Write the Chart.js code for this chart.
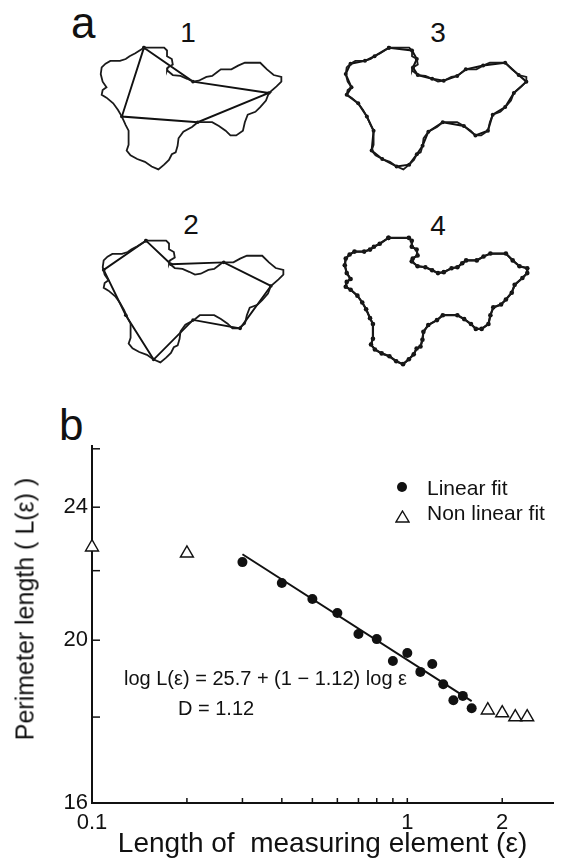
<!DOCTYPE html>
<html>
<head>
<meta charset="utf-8">
<script src="https://cdn.jsdelivr.net/npm/chart.js@4.4.0/dist/chart.umd.min.js"></script>
<style>
  body { margin: 0; background: #fff; }
  #page { position: relative; width: 562px; height: 861px; font-family: "Liberation Sans", Arial, sans-serif; color: #111; }
  canvas, .lbl, svg, .dot { position: absolute; }
  .lbl { line-height: 1; white-space: nowrap; }
</style>
</head>
<body>
<div id="page">
  <div class="lbl" style="left:71px;top:1px;font-size:44px">a</div>
  <div class="lbl" style="left:168px;top:19px;width:40px;text-align:center;font-size:28px">1</div>
  <div class="lbl" style="left:418px;top:19px;width:40px;text-align:center;font-size:28px">3</div>
  <div class="lbl" style="left:171px;top:211px;width:40px;text-align:center;font-size:28px">2</div>
  <div class="lbl" style="left:418px;top:212px;width:40px;text-align:center;font-size:28px">4</div>

  <canvas id="step1" width="204" height="142" style="left:90px;top:38px"></canvas>
  <canvas id="step3" width="204" height="142" style="left:335px;top:38px"></canvas>
  <canvas id="step2" width="204" height="142" style="left:92px;top:231px"></canvas>
  <canvas id="step4" width="206" height="147" style="left:334px;top:228px"></canvas>

  <div class="lbl" style="left:59px;top:403px;font-size:44px">b</div>
  <canvas id="plotB" width="562" height="481" style="left:0;top:380px"></canvas>

  <div class="lbl" style="left:25px;top:609px;font-size:25px;transform:translate(-50%,-50%) rotate(-90deg)">Perimeter length ( L(ε) )</div>

  <div class="dot" style="left:397px;top:482px;width:10px;height:10px;border-radius:50%;background:#111"></div>
  <div class="lbl" style="left:427px;top:477px;font-size:21px">Linear fit</div>
  <svg style="left:395px;top:510px" width="15" height="13"><polygon points="7.5,1 14,12 1,12" fill="none" stroke="#111" stroke-width="1.4"/></svg>
  <div class="lbl" style="left:427px;top:502px;font-size:21px">Non linear fit</div>

  <div class="lbl" style="left:124px;top:668px;font-size:20px">log L(ε) = 25.7 + (1 − 1.12) log ε</div>
  <div class="lbl" style="left:178px;top:698px;font-size:20px">D = 1.12</div>
</div>

<script>
// cell outline, traced in the frame of step 1 (px)
const outlineX = [142,163,166,166,171,172,167,166,172,180,187,193,199,207,213,218,222,233,240,247,
                  263,270,277,285,285,280,272,269,263,258,250,247,245,238,232,227,220,213,198,192,
                  183,178,177,175,171,168,163,157,150,143,135,128,124,126,126,123,119,115,110,103,
                  98,99,103,99,97,98,102,107,117,123,127,133,142];
const outlineY = [44,44,47,53,56,62,65,68,73,74,77,80,79,75,74,70,67,67,63,60,
                  60,67,73,75,80,85,92,100,107,112,115,123,132,137,137,132,127,123,123,128,
                  133,140,148,155,157,163,168,173,170,165,162,158,153,147,132,126,117,110,103,97,
                  94,89,86,80,72,65,61,58,58,56,53,50,44];

// divider walks for the four step sizes
const step1X = [142,193,272,198,119,142];
const step1Y = [44,80,92,123,117,44];
const step2X = [142,168,223,272,240,191,150,121,98,142];
const step2Y = [44,69,67,92,137,128,170,123,75,44];
const step3X = [142,166,171,167,172,187,199,213,222,240,263,277,285,272,263,250,245,232,220,198,
                183,177,171,163,150,135,124,126,119,110,98,103,97,102,117,127,142];
const step3Y = [44,47,56,65,73,77,79,74,67,63,60,73,80,92,107,115,132,137,127,123,
                133,148,157,168,170,162,153,132,117,103,94,86,72,61,58,53,44];
const step4X = outlineX;
const step4Y = outlineY;

// perimeter vs. step length
const linearEps = [0.3,0.4,0.5,0.6,0.7,0.8,0.9,1.0,1.1,1.2,1.3,1.4,1.5,1.6];
const linearLen = [22.26,21.63,21.16,20.76,20.17,20.03,19.44,19.65,19.15,19.36,18.83,18.42,18.53,18.22];
const nonlinearEps = [0.1,0.2,1.8,2.0,2.2,2.4];
const nonlinearLen = [22.72,22.53,18.17,18.10,18.0,18.0];
const fitEps = [0.3,1.6];
const fitLen = [22.5,18.4];

const xTicks = [0.1,0.2,0.3,0.4,0.5,0.6,0.7,0.8,0.9,1,2];
const xTickLabels = ['0.1','','','','','','','','','1','2'];
const yTicks = [16,18,20,22,24,26];
const yTickLabels = ['16','','20','','24',''];

function pts(xs, ys) {
    return xs.map((x, i) => ({ x: x, y: ys[i] }));
}

function drawStep(id, divX, divY, o) {
    new Chart(document.getElementById(id), {
        type: "scatter",
        data: {
            datasets: [
                { data: pts(outlineX, outlineY), showLine: true, borderColor: "#1a1a1a",
                  borderWidth: o.outline, pointRadius: 0, clip: false },
                { data: pts(divX, divY), showLine: true, borderColor: "#111",
                  borderWidth: o.div, pointRadius: o.dot, pointBackgroundColor: "#111",
                  pointBorderWidth: 0, clip: false }
            ]
        },
        options: {
            responsive: false, animation: false, events: [],
            layout: { padding: 0 },
            plugins: { legend: { display: false }, tooltip: { enabled: false } },
            scales: {
                x: { type: "linear", display: false, min: 90, max: 294 },
                y: { type: "linear", display: false, min: 38, max: 180, reverse: true }
            }
        }
    });
}

drawStep("step1", step1X, step1Y, { outline: 1.8, div: 1.9, dot: 1.8 });
drawStep("step2", step2X, step2Y, { outline: 1.8, div: 1.9, dot: 1.8 });
drawStep("step3", step3X, step3Y, { outline: 1.8, div: 2, dot: 2 });
drawStep("step4", step4X, step4Y, { outline: 1.8, div: 2.2, dot: 2.3 });

// tick marks pointing into the plot
const innerTicks = {
    id: "innerTicks",
    afterDraw(chart) {
        const { ctx, scales: { x, y } } = chart;
        ctx.save();
        ctx.strokeStyle = "#111";
        ctx.lineWidth = 1.5;
        xTicks.forEach(v => {
            const px = x.getPixelForValue(v);
            ctx.beginPath(); ctx.moveTo(px, x.top); ctx.lineTo(px, x.top - 5); ctx.stroke();
        });
        yTicks.forEach(v => {
            const py = y.getPixelForValue(v);
            ctx.beginPath(); ctx.moveTo(y.right, py); ctx.lineTo(y.right + 8, py); ctx.stroke();
        });
        ctx.restore();
    }
};

new Chart(document.getElementById("plotB"), {
    type: "scatter",
    data: {
        datasets: [
            { label: "fit", data: pts(fitEps, fitLen), showLine: true, borderColor: "#111",
              borderWidth: 2, pointRadius: 0, clip: false },
            { label: "Linear fit", data: pts(linearEps, linearLen), pointStyle: "circle",
              pointRadius: 5, backgroundColor: "#111", borderColor: "#111", borderWidth: 0, clip: false },
            { label: "Non linear fit", data: pts(nonlinearEps, nonlinearLen), pointStyle: "triangle",
              pointRadius: 7.5, backgroundColor: "#fff", borderColor: "#111", borderWidth: 1.4, clip: false }
        ]
    },
    options: {
        responsive: false, animation: false, events: [],
        layout: { padding: { top: 66, right: 4, left: 0, bottom: 0 } },
        plugins: { legend: { display: false }, tooltip: { enabled: false } },
        scales: {
            x: {
                type: "logarithmic", min: 0.1, max: 2.9,
                afterBuildTicks: s => { s.ticks = xTicks.map(v => ({ value: v })); },
                afterFit: s => { s.height = 58; },
                grid: { display: false, drawTicks: false },
                border: { display: true, color: "#111", width: 2 },
                ticks: {
                    autoSkip: false, maxRotation: 0, padding: 7, color: "#111",
                    font: { family: "Liberation Sans", size: 22 },
                    callback: (v, i) => xTickLabels[i]
                },
                title: {
                    display: true, text: "Length of  measuring element (ε)", color: "#111",
                    font: { family: "Liberation Sans", size: 28 }, padding: 0
                }
            },
            y: {
                type: "logarithmic", min: 16, max: 26.1,
                afterBuildTicks: s => { s.ticks = yTicks.map(v => ({ value: v })); },
                afterFit: s => { s.width = 92; },
                grid: { display: false, drawTicks: false },
                border: { display: true, color: "#111", width: 2 },
                ticks: {
                    autoSkip: false, padding: 4, color: "#111",
                    font: { family: "Liberation Sans", size: 22 },
                    callback: (v, i) => yTickLabels[i]
                }
            }
        }
    },
    plugins: [innerTicks]
});
</script>
</body>
</html>
